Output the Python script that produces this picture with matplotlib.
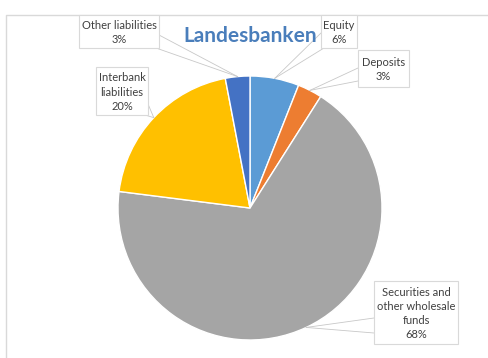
import matplotlib
matplotlib.use("Agg")
import matplotlib.pyplot as plt
from matplotlib.patches import Rectangle
import numpy as np

plt.rcParams['font.family'] = ['Lato', 'DejaVu Sans']

# liabilities split, in percent (clockwise from 12 o'clock)
labels = ['Equity', 'Deposits', 'Securities and\nother wholesale\nfunds',
          'Interbank\nliabilities', 'Other liabilities']
shares = [6, 3, 68, 20, 3]
colors = ['#5B9BD5', '#ED7D31', '#A5A5A5', '#FFC000', '#4472C4']

W, H = 489, 358
CX, CY, R = 250, 208, 132   # pie centre/radius in pixels (y from top)

# callout boxes (x0, y0, x1, y1 in pixels from top-left) and where the
# leader lines meet each box
boxes = [(321, 15, 357, 48), (358, 50, 409, 87), (374, 281, 458, 344),
         (96, 67, 148, 115), (79, 15, 159, 48)]
hooks = [[(321, 33), (324, 48)], [(358, 68), (358, 81)],
         [(374, 318), (374, 333)], [(148, 104), (145, 115)],
         [(159, 35), (156, 48)]]

fig = plt.figure(figsize=(W / 100, H / 100), dpi=100)
ax = fig.add_axes([0, 0, 1, 1])

ax.pie(shares, colors=colors, startangle=90, counterclock=False,
       center=(CX, H - CY), radius=R,
       wedgeprops=dict(edgecolor='white', linewidth=1.0))
ax.set_xlim(0, W)
ax.set_ylim(0, H)
ax.set_axis_off()

# chart area border (top and left edges visible)
ax.plot([6, 6, W], [0, H - 15, H - 15], color='#D9D9D9', lw=1.0)

ax.text(250, H - 36, 'Landesbanken', ha='center', va='center',
        fontsize=15, fontweight='bold', color='#4A7EBB')

cum = np.cumsum([0] + shares)
for i, (lab, val) in enumerate(zip(labels, shares)):
    mid = 90 - (cum[i] + val / 2) / 100 * 360
    ax_x = CX + R * np.cos(np.radians(mid))
    ax_y = CY - R * np.sin(np.radians(mid))
    for hx, hy in hooks[i]:
        ax.plot([ax_x, hx], [H - ax_y, H - hy], color='#C8C8C8', lw=0.6)
    x0, y0, x1, y1 = boxes[i]
    ax.add_patch(Rectangle((x0, H - y1), x1 - x0, y1 - y0, facecolor='white',
                           edgecolor='#D9D9D9', lw=0.8, zorder=3))
    ax.text((x0 + x1) / 2, H - (y0 + y1) / 2 - 1, f'{lab}\n{val}%',
            ha='center', va='center', fontsize=8, color='#404040',
            linespacing=1.35, zorder=4)

fig.savefig('out.png', dpi=100)
